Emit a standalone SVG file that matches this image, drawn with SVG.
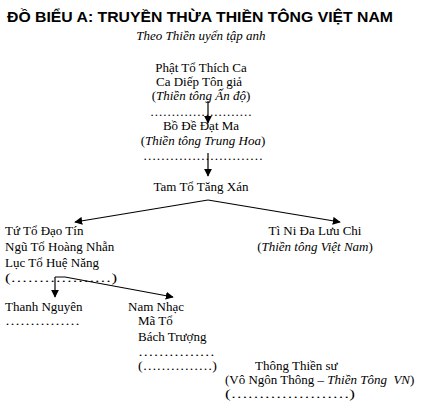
<svg xmlns="http://www.w3.org/2000/svg" width="422" height="403" viewBox="0 0 422 403">
<style>
.t{font-family:"Liberation Serif","Times New Roman",serif;font-size:13px;fill:#000}
.i{font-style:italic}
.c{text-anchor:middle}
.h{font-family:"Liberation Sans",Arial,sans-serif;font-size:15px;font-weight:bold;fill:#000}
.ln{stroke:#000;stroke-width:1.2;fill:none;marker-end:url(#ah)}
</style>
<defs>
<marker id="ah" viewBox="0 0 10 10" refX="9" refY="5" markerWidth="8" markerHeight="8" markerUnits="userSpaceOnUse" orient="auto">
<path d="M0,0 L10,5 L0,10 z" fill="#000"/>
</marker>
</defs>
<rect width="422" height="403" fill="#fff"/>
<g id="title">
<text class="h" x="7" y="22" textLength="386" lengthAdjust="spacingAndGlyphs">ĐỒ BIỂU A: TRUYỀN THỪA THIỀN TÔNG VIỆT NAM</text>
<text class="t i c" x="201" y="40">Theo Thiền uyển tập anh</text>
</g>
<g id="n-india">
<text class="t c" x="201" y="72">Phật Tổ Thích Ca</text>
<text class="t c" x="199" y="86">Ca Diếp Tôn giả</text>
<text class="t c" x="201" y="100">(<tspan class="i">Thiền tông Ấn độ</tspan>)</text>
<text class="t" x="150" y="116" textLength="102" lengthAdjust="spacingAndGlyphs">……………………</text>
</g>
<g id="n-china">
<text class="t c" x="201" y="130">Bồ Đề Đạt Ma</text>
<text class="t c" x="203" y="145">(<tspan class="i">Thiền tông Trung Hoa</tspan>)</text>
<text class="t" x="143" y="160" textLength="120" lengthAdjust="spacingAndGlyphs">………………………</text>
</g>
<g id="n-tam-to">
<text class="t c" x="201" y="191">Tam Tổ Tăng Xán</text>
</g>
<g id="n-tu-to">
<text class="t" x="5" y="235">Tứ Tổ Đạo Tín</text>
<text class="t" x="5" y="251">Ngũ Tổ Hoàng Nhẫn</text>
<text class="t" x="5" y="267">Lục Tổ Huệ Năng</text>
<text class="t" x="5" y="282" textLength="112" lengthAdjust="spacingAndGlyphs">(………………)</text>
</g>
<g id="n-ti-ni">
<text class="t c" x="315" y="235">Tì Ni Đa Lưu Chi</text>
<text class="t c" x="315" y="251">(<tspan class="i">Thiền tông Việt Nam</tspan>)</text>
</g>
<g id="n-thanh-nguyen">
<text class="t" x="5" y="311">Thanh Nguyên</text>
<text class="t" x="5" y="325" textLength="75" lengthAdjust="spacingAndGlyphs">……………</text>
</g>
<g id="n-nam-nhac">
<text class="t" x="128" y="311">Nam Nhạc</text>
<text class="t" x="138" y="325">Mã Tổ</text>
<text class="t" x="138" y="341">Bách Trượng</text>
<text class="t" x="138" y="356" textLength="77" lengthAdjust="spacingAndGlyphs">……………</text>
<text class="t" x="138" y="370" textLength="79" lengthAdjust="spacingAndGlyphs">(……………)</text>
</g>
<g id="n-thong">
<text class="t" x="255" y="370">Thông Thiền sư</text>
<text class="t" x="225" y="384" xml:space="preserve">(Vô Ngôn Thông – <tspan class="i">Thiền Tông  VN</tspan>)</text>
<text class="t" x="225" y="398" textLength="130" lengthAdjust="spacingAndGlyphs">(…………………)</text>
</g>
<g id="connectors">
<path class="ln" d="M208,101 L208,123"/>
<path class="ln" d="M208,153 L208,176"/>
<path class="ln" d="M208,200 L75,222"/>
<path class="ln" d="M208,200 L340,222"/>
<path class="ln" d="M55,277 L55,297"/>
<path class="ln" d="M55,277 L65,277 L173,297"/>
</g>
</svg>
